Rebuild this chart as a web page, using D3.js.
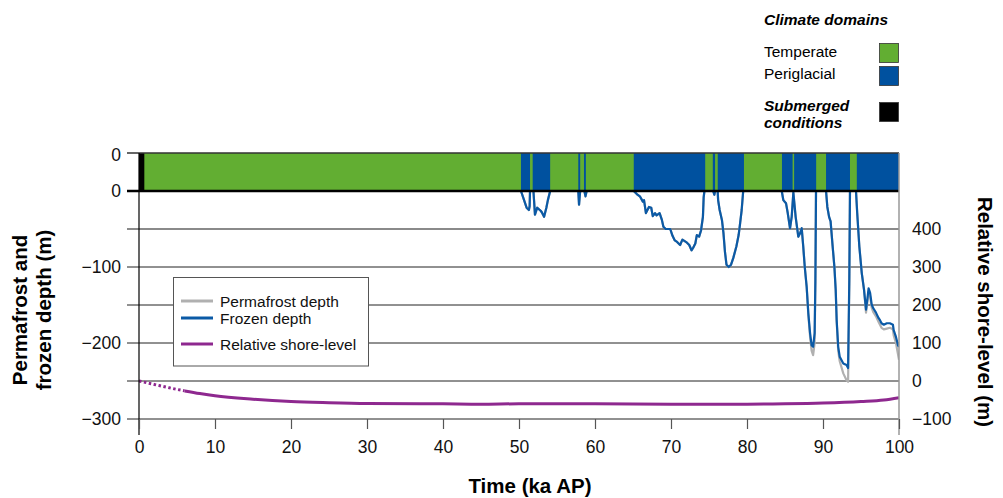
<!DOCTYPE html>
<html>
<head>
<meta charset="utf-8">
<script src="https://cdn.jsdelivr.net/npm/d3@7"></script>
<style>
  body { margin: 0; background: #fff; }
  svg { display: block; font-family: "Liberation Sans", Arial, sans-serif; }
</style>
</head>
<body>
<div id="chart"></div>
<script>
// Climate domains (ka AP)
const periglacialFrom = [50.26, 51.8, 57.8, 58.55, 65.1, 75.5, 76.15, 84.6, 86.2, 90.4, 94.45];
const periglacialTo   = [51.45, 54.1, 58.05, 58.8, 74.5, 75.8, 79.6, 86.0, 89.1, 93.55, 100];
const submergedFrom = [0];
const submergedTo = [0.7];

// Frozen / permafrost depth (m)
const depthTime = [0, 50.26, 50.6, 51.0, 51.3, 51.4, 51.45, 51.9, 52.1, 52.4, 52.85, 53.0, 53.3, 53.6, 53.8, 54.1,
  57.8, 57.9, 58.05, 58.6, 58.75, 58.9,
  65.1, 65.5, 65.9, 66.3, 66.45, 66.7, 67.1, 67.4, 67.6, 67.9, 68.1, 68.5, 68.8, 69.0, 69.3, 69.9, 70.2, 70.5, 70.8,
  71.2, 71.5, 71.8, 72.1, 72.4, 72.7, 72.9, 73.2, 73.4, 73.7, 73.95, 74.2, 74.3, 74.4,
  75.55, 75.7, 75.8, 76.14, 76.2, 76.4, 76.7, 76.9, 77.1, 77.3, 77.6, 77.9, 78.2, 78.6, 78.9, 79.1, 79.3, 79.5,
  84.57, 84.78, 85.13, 85.36, 85.66, 85.88, 86.1, 86.4, 86.75, 86.97, 87.2, 87.4, 87.6, 87.85, 88.07, 88.3, 88.5, 88.7, 88.9, 89.0, 89.08,
  90.4, 90.57, 90.8, 91.0, 91.27, 91.5, 91.67, 91.8, 92.0, 92.2, 92.67, 93.1, 93.3, 93.46, 93.55,
  94.34, 94.5, 94.78, 95.1, 95.4, 95.66, 95.83, 96.0, 96.2, 96.4, 96.6, 96.97, 97.3, 97.5, 97.7, 98.0, 98.4, 98.8, 99.2, 99.3, 99.6, 99.87, 100];
const frozenDepth = [0, 0, -10, -22, -25, -20, 0, 0, -31, -22, -26, -28, -34, -22, -12, 0,
  0, -18, 0, 0, -7, 0,
  0, -4, -7, -14, -12, -29, -21, -22, -33, -29, -32, -29, -38, -47, -50, -50, -59, -65, -67,
  -71, -64, -66, -68, -71, -78, -75, -69, -58, -60, -52, -34, -8, 0,
  0, -5, 0, 0, -12, -25, -38, -55, -80, -97, -100, -97, -88, -73, -58, -42, -25, 0,
  0, -12, -16, -29, -49, -34, -2, -34, -60, -56, -49, -73, -100, -126, -161, -187, -203, -205, -187, -116, 0,
  0, -21, -34, -40, -73, -100, -130, -170, -205, -218, -227, -229, -233, -117, 0,
  0, -29, -73, -108, -130, -156, -143, -128, -134, -149, -154, -160, -167, -170, -174, -176, -174, -174, -176, -183, -192, -203, -205];
const permafrostDepth = [0, 0, -10, -22, -25, -20, 0, 0, -31, -22, -26, -28, -34, -22, -12, 0,
  0, -18, 0, 0, -7, 0,
  0, -4, -7, -14, -12, -29, -21, -22, -33, -29, -32, -29, -38, -47, -50, -50, -59, -65, -67,
  -71, -64, -66, -68, -71, -78, -75, -69, -58, -60, -52, -34, -8, 0,
  0, -5, 0, 0, -12, -25, -38, -55, -80, -97, -100, -97, -88, -73, -58, -42, -25, 0,
  0, -12, -16, -29, -49, -34, -2, -34, -60, -56, -49, -73, -100, -126, -163, -192, -210, -216, -200, -120, 0,
  0, -21, -34, -40, -73, -100, -130, -172, -210, -224, -240, -249, -251, -125, 0,
  0, -29, -73, -108, -130, -160, -147, -132, -139, -153, -159, -165, -172, -176, -180, -182, -181, -180, -182, -190, -200, -215, -222];

// Relative shore-level (m)
const shoreTime  = [0, 2, 4, 6, 8, 10, 15, 20, 25, 30, 40, 45, 50, 60, 70, 80, 85, 90, 95, 98, 100];
const shoreLevel = [0, -9, -18, -26, -33, -39, -48, -54, -57, -59, -60, -61, -60, -60, -61, -61, -60, -58, -54, -50, -44];
const shoreDottedUntil = 6;

// Ticks
const timeTicks = [0, 10, 20, 30, 40, 50, 60, 70, 80, 90, 100];
const depthTicks = [0, -100, -200, -300];
const depthGrid = [0, -50, -100, -150, -200, -250, -300];
const shoreTicks = [-100, 0, 100, 200, 300, 400];

const colors = {
  temperate: "#62ae32",
  periglacial: "#00519f",
  submerged: "#000",
  frozen: "#0b5aa6",
  permafrost: "#b0b0b0",
  shore: "#8e288f"
};

document.addEventListener("DOMContentLoaded", function () {
  const width = 1003, height = 498;
  const left = 139, right = 899;
  const barTop = 153, barBottom = 191;

  const svg = d3.select("#chart").append("svg")
    .attr("width", width)
    .attr("height", height);

  const x = d3.scaleLinear().domain([0, 100]).range([left, right]);
  const yDepth = d3.scaleLinear().domain([0, -300]).range([barBottom, 419]);
  const yShore = d3.scaleLinear().domain([-100, 400]).range([419, 229]);

  // grid lines
  svg.append("g").selectAll("line")
    .data(depthGrid)
    .enter().append("line")
    .attr("x1", 127).attr("x2", right)
    .attr("y1", d => yDepth(d)).attr("y2", d => yDepth(d))
    .attr("stroke", d => d === -50 ? "#8a8a8a" : "#222")
    .attr("stroke-width", d => d === -50 ? 1.8 : 1);

  svg.append("defs").append("clipPath").attr("id", "plot")
    .append("rect").attr("x", left).attr("y", barTop)
    .attr("width", right - left).attr("height", 419 - barTop);

  const plot = svg.append("g").attr("clip-path", "url(#plot)");

  const depthLine = arr => d3.line()
    .x((d, i) => x(depthTime[i]))
    .y((d, i) => yDepth(arr[i]))(arr);

  plot.append("path")
    .attr("d", depthLine(permafrostDepth))
    .attr("fill", "none").attr("stroke", colors.permafrost)
    .attr("stroke-width", 2.2).attr("stroke-linejoin", "round");

  plot.append("path")
    .attr("d", depthLine(frozenDepth))
    .attr("fill", "none").attr("stroke", colors.frozen)
    .attr("stroke-width", 2.2).attr("stroke-linejoin", "round");

  // shore-level, dotted at start
  const shore = shoreTime.map((t, i) => ({ t: t, v: shoreLevel[i] }));
  const shoreLine = d3.line().curve(d3.curveMonotoneX)
    .x(d => x(d.t)).y(d => yShore(d.v));
  plot.append("path")
    .attr("d", shoreLine(shore.filter(d => d.t <= shoreDottedUntil)))
    .attr("fill", "none").attr("stroke", colors.shore)
    .attr("stroke-width", 3).attr("stroke-dasharray", "2.5,2.5");
  plot.append("path")
    .attr("d", shoreLine(shore.filter(d => d.t >= shoreDottedUntil)))
    .attr("fill", "none").attr("stroke", colors.shore)
    .attr("stroke-width", 3);

  // climate bar
  const bar = svg.append("g");
  bar.append("rect")
    .attr("x", x(0)).attr("y", barTop)
    .attr("width", x(100) - x(0)).attr("height", barBottom - barTop)
    .attr("fill", colors.temperate);
  bar.selectAll("rect.peri")
    .data(periglacialFrom)
    .enter().append("rect").attr("class", "peri")
    .attr("x", d => x(d)).attr("y", barTop)
    .attr("width", (d, i) => x(periglacialTo[i]) - x(d))
    .attr("height", barBottom - barTop)
    .attr("fill", colors.periglacial);
  bar.selectAll("rect.sub")
    .data(submergedFrom)
    .enter().append("rect").attr("class", "sub")
    .attr("x", d => x(d)).attr("y", barTop)
    .attr("width", (d, i) => x(submergedTo[i]) - x(d))
    .attr("height", barBottom - barTop)
    .attr("fill", colors.submerged);

  svg.append("line")
    .attr("x1", 127).attr("x2", right).attr("y1", barTop).attr("y2", barTop)
    .attr("stroke", "#333").attr("stroke-width", 1.5);
  svg.append("line")
    .attr("x1", 127).attr("x2", right).attr("y1", barBottom).attr("y2", barBottom)
    .attr("stroke", "#000").attr("stroke-width", 2.5);

  // vertical axis lines
  svg.append("line")
    .attr("x1", left).attr("x2", left).attr("y1", barTop).attr("y2", 435)
    .attr("stroke", "#000").attr("stroke-width", 1.2);
  svg.append("line")
    .attr("x1", right).attr("x2", right).attr("y1", barTop).attr("y2", 435)
    .attr("stroke", "#999").attr("stroke-width", 1.5);

  // x axis
  const xAxis = svg.append("g")
    .attr("transform", "translate(0,419)")
    .call(d3.axisBottom(x).tickValues(timeTicks).tickSize(10).tickPadding(12));
  xAxis.select(".domain").remove();
  xAxis.selectAll("line").attr("stroke", "#555").attr("stroke-width", 1.2);
  xAxis.selectAll("text").attr("font-size", "17.5px").attr("fill", "#111")
    .attr("font-family", "Liberation Sans, Arial, sans-serif")
    .text(d => d);

  // left axis (labels only)
  const yAxis = svg.append("g")
    .attr("transform", `translate(${left},0)`)
    .call(d3.axisLeft(yDepth).tickValues(depthTicks).tickSize(0).tickPadding(18)
      .tickFormat(d => d < 0 ? "\u2212" + Math.abs(d) : d));
  yAxis.select(".domain").remove();
  yAxis.selectAll("text").attr("font-size", "17.5px").attr("fill", "#111")
    .attr("font-family", "Liberation Sans, Arial, sans-serif");
  svg.append("text")
    .attr("x", left - 18).attr("y", barTop + 2).attr("dy", "0.32em")
    .attr("text-anchor", "end").attr("font-size", "17.5px").attr("fill", "#111")
    .text("0");

  // right axis
  const rAxis = svg.append("g")
    .attr("transform", `translate(${right},0)`)
    .call(d3.axisRight(yShore).tickValues(shoreTicks).tickSize(0).tickPadding(13)
      .tickFormat(d => d < 0 ? "\u2212" + Math.abs(d) : d));
  rAxis.select(".domain").remove();
  rAxis.selectAll("text").attr("font-size", "17.5px").attr("fill", "#111")
    .attr("font-family", "Liberation Sans, Arial, sans-serif");

  // axis titles
  svg.append("text")
    .attr("x", 530).attr("y", 493)
    .attr("text-anchor", "middle").attr("font-weight", "bold").attr("font-size", "20.5px")
    .text("Time (ka AP)");

  const lt = svg.append("text")
    .attr("transform", "translate(27,310) rotate(-90)")
    .attr("text-anchor", "middle").attr("font-weight", "bold").attr("font-size", "20.5px");
  lt.append("tspan").attr("x", 0).attr("y", 0).text("Permafrost and");
  lt.append("tspan").attr("x", 0).attr("y", 24).text("frozen depth (m)");

  svg.append("text")
    .attr("transform", "translate(978,312) rotate(90)")
    .attr("text-anchor", "middle").attr("font-weight", "bold").attr("font-size", "20.5px")
    .text("Relative shore-level (m)");

  // series legend
  const lg = svg.append("g");
  lg.append("rect")
    .attr("x", 173.5).attr("y", 277.5).attr("width", 195).attr("height", 88.5)
    .attr("fill", "#fff").attr("stroke", "#555").attr("stroke-width", 1);
  const items = [
    { label: "Permafrost depth", color: colors.permafrost, y: 301 },
    { label: "Frozen depth", color: colors.frozen, y: 318 },
    { label: "Relative shore-level", color: colors.shore, y: 344 }
  ];
  items.forEach(it => {
    lg.append("line")
      .attr("x1", 181).attr("x2", 213).attr("y1", it.y).attr("y2", it.y)
      .attr("stroke", it.color).attr("stroke-width", 3);
    lg.append("text")
      .attr("x", 220).attr("y", it.y).attr("dy", "0.36em")
      .attr("font-size", "15.5px").attr("fill", "#111")
      .text(it.label);
  });

  // climate legend
  const cl = svg.append("g");
  cl.append("text").attr("x", 764).attr("y", 25)
    .attr("font-weight", "bold").attr("font-style", "italic").attr("font-size", "15.5px")
    .text("Climate domains");
  cl.append("text").attr("x", 764).attr("y", 57).attr("font-size", "15.5px").text("Temperate");
  cl.append("text").attr("x", 764).attr("y", 79).attr("font-size", "15.5px").text("Periglacial");
  cl.append("text").attr("x", 764).attr("y", 111)
    .attr("font-weight", "bold").attr("font-style", "italic").attr("font-size", "15.5px")
    .text("Submerged");
  cl.append("text").attr("x", 764).attr("y", 128)
    .attr("font-weight", "bold").attr("font-style", "italic").attr("font-size", "15.5px")
    .text("conditions");
  [[43, colors.temperate], [66, colors.periglacial], [102, colors.submerged]].forEach(b => {
    cl.append("rect")
      .attr("x", 879.5).attr("y", b[0] + 0.5).attr("width", 19).attr("height", 19)
      .attr("fill", b[1]).attr("stroke", "#333").attr("stroke-width", 0.8);
  });
});
</script>
</body>
</html>
